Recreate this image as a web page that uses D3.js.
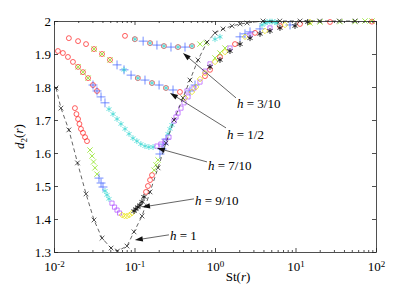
<!DOCTYPE html>
<html lang="en">
<head>
<meta charset="UTF-8">
<script src="https://cdn.jsdelivr.net/npm/d3@7"></script>
<style>
    body { margin: 0; background: #fff; }
    svg text { font-family: "Liberation Serif", "DejaVu Serif", serif; fill: #000; }
    .axis path, .axis line { stroke: #222; stroke-width: 0.8; }
</style>
</head>
<body>
<svg id="chart" width="415" height="285"></svg>
<script>
    // Each run = one simulation set, points are [St(r), d2(r)]
    const runRed = [
        [0.0112,1.909],[0.0129,1.903],[0.0149,1.891],[0.0172,1.876],[0.0199,1.861],[0.0229,1.845],[0.0265,1.827],[0.0305,1.806],[0.0342,1.788],
        [0.0153,1.948],[0.0199,1.939],[0.0250,1.930],[0.0314,1.915],[0.0395,1.900],[0.0496,1.882],[0.110,1.827],[0.165,1.812],[0.246,1.797],[0.367,1.785],
        [0.0762,1.955],[0.101,1.945],[0.156,1.933],[0.232,1.924],[0.347,1.921],[0.518,1.924],
        [0.0182,1.736],[0.0190,1.718],[0.0199,1.703],[0.0207,1.688],[0.0216,1.673],[0.0229,1.661],[0.0243,1.648],[0.0257,1.636],
        [0.139,1.482],[0.147,1.500],[0.156,1.518],[0.165,1.533],[0.751,1.833],[0.867,1.852],[1.153,1.891],[1.771,1.930],
        [3.141,1.964],[6.412,1.985],[11.38,1.991],[26.83,1.997],[89.1,1.998]
    ];
    const runGreen = [
        [0.0199,1.861],[0.0229,1.845],[0.0265,1.827],
        [0.0314,1.915],[0.0395,1.900],[0.0496,1.882],
        [0.0280,1.609],[0.0297,1.591],[0.0310,1.573],[0.0323,1.555],[0.0342,1.536],
        [0.651,1.930],[0.773,1.933],
        [0.175,1.548],[0.185,1.564],[0.196,1.579],[1.0,1.888],[1.153,1.903],[1.331,1.918],
        [15.14,1.994],[20.15,1.997],[35.7,1.998],[54.8,1.998],[73.0,2.0],[89.1,2.0]
    ];
    const runBlue = [
        [0.0305,1.806],[0.0342,1.788],[0.0384,1.770],[0.0430,1.752],
        [0.0607,1.867],[0.0741,1.852],[0.0906,1.836],[0.135,1.821],[0.202,1.806],[0.301,1.791],
        [0.128,1.939],[0.190,1.927],[0.284,1.921],[0.424,1.921],
        [0.0362,1.524],[0.0384,1.509],[0.0406,1.497],
        [0.207,1.597],[0.220,1.612],[0.232,1.627],[0.246,1.642],
        [0.489,1.788],[0.565,1.806],[2.045,1.952],[2.358,1.961],[2.723,1.967],[3.624,1.976],[8.551,1.988]
    ];
    const runCyan = [
        [0.0482,1.733],[0.0541,1.718],[0.0607,1.703],[0.0679,1.688],[0.0762,1.673],[0.0855,1.658],[0.0957,1.645],[0.107,1.636],
        [0.120,1.627],[0.135,1.621],[0.151,1.618],[0.170,1.618],
        [0.0741,1.852],[0.110,1.827],[0.165,1.812],[0.246,1.797],
        [0.101,1.945],[0.156,1.933],[0.232,1.924],[0.347,1.921],[0.518,1.924],
        [0.0430,1.485],[0.0455,1.473],[0.0482,1.461],
        [0.261,1.658],[0.276,1.673],[0.292,1.685],[1.0,1.945],[1.153,1.952],
        [3.837,1.988],[4.178,1.994],[4.426,1.997],[4.819,1.998],[5.105,1.998],[5.559,1.997],[5.888,1.994]
    ];
    const runPurple = [
        [0.190,1.621],[0.213,1.627],[0.239,1.636],[0.268,1.648],
        [0.449,1.788],[0.548,1.797],[0.651,1.815],
        [0.0525,1.448],[0.0565,1.436],[0.0607,1.427],[0.0652,1.418],
        [0.310,1.697],[0.328,1.709],[0.347,1.721],[0.378,1.736],[0.412,1.752],[0.462,1.770],
        [0.751,1.848],[0.867,1.870],[1.535,1.918],[2.723,1.958],[4.819,1.979]
    ];
    const runYellow = [
        [0.0700,1.412],[0.0752,1.409],[0.0807,1.409],[0.0867,1.412],[0.0931,1.418],
        [0.424,1.767],[0.518,1.785],[0.581,1.800],[0.651,1.824],[0.751,1.842],[1.0,1.876],[1.331,1.906],
        [2.358,1.952],[4.178,1.970],[7.413,1.988],[15.14,1.997]
    ];
    const runBlack = [
        [0.0986,1.424],[0.104,1.430],[0.110,1.436],[0.117,1.442],[0.124,1.452],[0.131,1.467],
        [0.867,1.861],[1.153,1.882],[1.535,1.909],[2.045,1.930],[2.723,1.948],[3.624,1.961],
        [4.819,1.970],[6.412,1.979],[9.862,1.985],[14.2,1.997]
    ];
    // h = 1, joined by the dashed line
    const hOne = [
        [0.0106,1.797],[0.0122,1.736],[0.0153,1.670],[0.0196,1.570],[0.0250,1.476],[0.0314,1.397],[0.0395,1.342],
        [0.0511,1.312],[0.0615,1.303],[0.0807,1.318],[0.0986,1.361],[0.124,1.409],[0.156,1.482],[0.196,1.555],
        [0.246,1.630],[0.310,1.700],[0.400,1.767],[0.489,1.821],[0.615,1.882],[0.796,1.936],[1.0,1.964],
        [1.26,1.976],[1.63,1.985],[2.05,1.991],[2.5,1.994],[3.95,2.0],[6.4,2.0],[11.4,2.0],[20,2.0],[35,2.0],[55,2.0]
    ];
    // annotations: h value, arrow tip, arrow tail, text anchor (data coords)
    const hValues = ["3/10", "1/2", "7/10", "9/10", "1"];
    const arrowTips = [[0.400,1.903],[0.276,1.782],[0.190,1.615],[0.124,1.436],[0.101,1.336]];
    const arrowTails = [[1.824,1.767],[1.370,1.676],[0.796,1.573],[0.548,1.461],[0.268,1.352]];
    const textAt = [[1.876,1.736],[1.409,1.642],[0.818,1.548],[0.565,1.442],[0.276,1.336]];

    const xMajor = [0.01, 0.1, 1, 10, 100];
    const yTicks = [1.3, 1.4, 1.5, 1.6, 1.7, 1.8, 1.9, 2];

    const width = 415, height = 285;
    const margin = { top: 21, right: 39, bottom: 33, left: 54 };

    const svg = d3.select("#chart");

    const x = d3.scaleLog().domain([0.01, 100]).range([margin.left, width - margin.right]);
    const y = d3.scaleLinear().domain([1.3, 2]).range([height - margin.bottom, margin.top]);

    const xMinor = [];
    xMajor.slice(0, -1).forEach(d => { for (let k = 2; k < 10; k++) xMinor.push(d * k); });

    // clip markers to the box
    svg.append("clipPath").attr("id", "plot-clip")
        .append("rect")
        .attr("x", margin.left).attr("y", margin.top - 3)
        .attr("width", width - margin.left - margin.right)
        .attr("height", height - margin.top - margin.bottom + 3);

    const plot = svg.append("g").attr("clip-path", "url(#plot-clip)");

    const runs = [
        { pts: runRed, sym: d3.symbolCircle, size: 19, color: "#ff1a1a", w: 0.7 },
        { pts: runGreen, sym: d3.symbolTimes, size: 20, color: "#7ee000", w: 0.7 },
        { pts: runBlue, sym: d3.symbolPlus, size: 28, color: "#3a5cff", w: 0.7 },
        { pts: runCyan, sym: d3.symbolAsterisk, size: 24, color: "#2fd6d0", w: 0.7 },
        { pts: runPurple, sym: d3.symbolSquare2, size: 22, color: "#b050ff", w: 0.7 },
        { pts: runYellow, sym: d3.symbolDiamond2, size: 20, color: "#e8e000", w: 0.7 },
        { pts: runBlack, sym: d3.symbolAsterisk, size: 24, color: "#111", w: 0.9 }
    ];

    runs.forEach(r => {
        plot.append("g")
            .selectAll("path")
            .data(r.pts)
            .join("path")
            .attr("transform", d => `translate(${x(d[0])},${y(d[1])})`)
            .attr("d", d3.symbol(r.sym, r.size))
            .attr("fill", "none")
            .attr("stroke", r.color)
            .attr("stroke-width", r.w);
    });

    // h = 1 dashed curve
    plot.append("path")
        .datum(hOne)
        .attr("d", d3.line().x(d => x(d[0])).y(d => y(d[1])))
        .attr("fill", "none")
        .attr("stroke", "#222")
        .attr("stroke-width", 0.7)
        .attr("stroke-dasharray", "4,3");

    plot.append("g")
        .selectAll("path")
        .data(hOne)
        .join("path")
        .attr("transform", d => `translate(${x(d[0])},${y(d[1])})`)
        .attr("d", d3.symbol(d3.symbolTimes, 16))
        .attr("fill", "none")
        .attr("stroke", "#111")
        .attr("stroke-width", 0.7);

    // axes, ticks pointing inward
    const sup = (sel) => sel.selectAll(".tick text").each(function (d) {
        const t = d3.select(this).text(null);
        t.append("tspan").text("10");
        t.append("tspan").attr("dy", "-0.45em").attr("font-size", "9px").text(Math.round(Math.log10(d)));
    });

    svg.append("g").attr("class", "axis")
        .attr("transform", `translate(0,${height - margin.bottom})`)
        .call(d3.axisBottom(x).tickValues(xMajor).tickSizeInner(-4).tickSizeOuter(0).tickPadding(10))
        .call(g => g.selectAll("text").attr("font-size", "13px"))
        .call(sup);
    svg.append("g").attr("class", "axis")
        .attr("transform", `translate(0,${height - margin.bottom})`)
        .call(d3.axisBottom(x).tickValues(xMinor).tickSizeInner(-2).tickSizeOuter(0).tickFormat(""))
        .call(g => g.select(".domain").remove());
    svg.append("g").attr("class", "axis")
        .attr("transform", `translate(0,${margin.top})`)
        .call(d3.axisTop(x).tickValues(xMajor).tickSizeInner(-4).tickSizeOuter(0).tickFormat(""));
    svg.append("g").attr("class", "axis")
        .attr("transform", `translate(0,${margin.top})`)
        .call(d3.axisTop(x).tickValues(xMinor).tickSizeInner(-2).tickSizeOuter(0).tickFormat(""))
        .call(g => g.select(".domain").remove());

    svg.append("g").attr("class", "axis")
        .attr("transform", `translate(${margin.left},0)`)
        .call(d3.axisLeft(y).tickValues(yTicks).tickSizeInner(-4).tickSizeOuter(0).tickPadding(3)
            .tickFormat(d => d === 2 ? "2" : d3.format(".1f")(d)))
        .call(g => g.selectAll("text").attr("font-size", "13px"));
    svg.append("g").attr("class", "axis")
        .attr("transform", `translate(${width - margin.right},0)`)
        .call(d3.axisRight(y).tickValues(yTicks).tickSizeInner(-4).tickSizeOuter(0).tickFormat(""));

    // axis titles
    const xt = svg.append("text")
        .attr("x", 238).attr("y", 281)
        .attr("text-anchor", "middle")
        .attr("font-size", "13px");
    xt.append("tspan").text("St(");
    xt.append("tspan").attr("font-style", "italic").text("r");
    xt.append("tspan").text(")");

    const yt = svg.append("text")
        .attr("transform", `translate(24,${(margin.top + height - margin.bottom) / 2}) rotate(-90)`)
        .attr("text-anchor", "middle")
        .attr("font-size", "13px");
    yt.append("tspan").attr("font-style", "italic").text("d");
    yt.append("tspan").attr("font-size", "9px").attr("dy", "0.3em").text("2");
    yt.append("tspan").attr("dy", "-0.3em").text("(");
    yt.append("tspan").attr("font-style", "italic").text("r");
    yt.append("tspan").text(")");

    // annotations with arrows
    hValues.forEach((h, i) => {
        const [x1, y1] = [x(arrowTails[i][0]), y(arrowTails[i][1])];
        const [x2, y2] = [x(arrowTips[i][0]), y(arrowTips[i][1])];
        const a = Math.atan2(y2 - y1, x2 - x1);
        const len = 8, hw = 2.6;
        const bx = x2 - len * Math.cos(a), by = y2 - len * Math.sin(a);
        svg.append("line")
            .attr("x1", x1).attr("y1", y1).attr("x2", bx).attr("y2", by)
            .attr("stroke", "#222").attr("stroke-width", 0.7);
        svg.append("path")
            .attr("d", `M${x2},${y2}L${bx + hw * Math.sin(a)},${by - hw * Math.cos(a)}L${bx - hw * Math.sin(a)},${by + hw * Math.cos(a)}Z`)
            .attr("fill", "#111");
        const t = svg.append("text")
            .attr("x", x(textAt[i][0])).attr("y", y(textAt[i][1]))
            .attr("font-size", "13px");
        t.append("tspan").attr("font-style", "italic").text("h");
        t.append("tspan").text(" = " + h);
    });
</script>
</body>
</html>
